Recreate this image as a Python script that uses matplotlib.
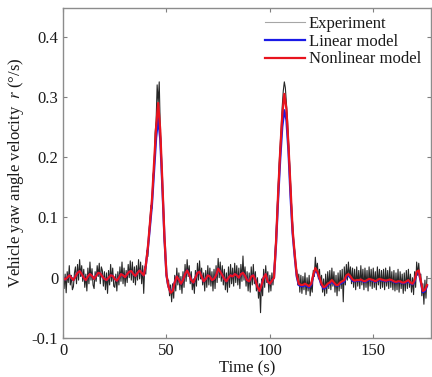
import matplotlib
matplotlib.use("Agg")
import matplotlib.pyplot as plt
import numpy as np
from matplotlib.ticker import FormatStrFormatter

# experiment sampled every 0.5 s (0 .. 176 s)
exp_dt = 0.5
experiment = [
    0.012, -0.018, 0.006, -0.025, 0.010, -0.008, 0.020, -0.012, 0.004, -0.020,
    -0.015, 0.008, 0.018, -0.010, 0.022, -0.004, 0.030, 0.002, 0.020, -0.006,
    0.014, -0.016, 0.006, -0.022, 0.016, -0.010, 0.026, -0.004, 0.015, -0.012,
    -0.018, 0.010, -0.006, 0.020, 0.002, 0.024, -0.010, 0.018, 0.012, -0.014,
    0.010, -0.020, 0.008, -0.026, 0.012, -0.012, 0.022, -0.006, 0.016, -0.014,
    -0.016, 0.006, -0.022, 0.010, -0.012, 0.018, -0.006, 0.026, -0.010, 0.016,
    -0.014, 0.012, -0.008, 0.022, 0.000, 0.028, -0.004, 0.026, -0.008, 0.018,
    -0.012, 0.020, -0.004, 0.030, -0.002, 0.026, -0.010, 0.020, -0.026, 0.018,
    0.006, 0.045, 0.035, 0.075, 0.095, 0.120, 0.115, 0.170, 0.180, 0.240,
    0.260, 0.320, 0.290, 0.325, 0.250, 0.210, 0.150, 0.120, 0.060, 0.030,
    0.010, -0.012, -0.004, -0.030, -0.012, -0.040, -0.010, -0.034, 0.004, -0.022,
    0.016, -0.012, 0.008, -0.020, 0.002, -0.026, 0.010, -0.016, 0.022, -0.006,
    0.030, 0.002, 0.020, -0.010, 0.010, -0.020, -0.002, -0.026, 0.012, -0.014,
    0.024, -0.004, 0.028, -0.002, 0.016, -0.012, 0.008, -0.022, 0.012, -0.016,
    0.020, -0.012, 0.016, -0.014, 0.010, -0.022, 0.014, -0.018, 0.020, -0.008,
    0.032, 0.000, 0.026, -0.006, 0.020, -0.012, 0.014, -0.020, 0.008, -0.024,
    0.018, -0.016, 0.022, -0.010, 0.016, -0.014, 0.024, -0.008, 0.020, -0.012,
    0.016, -0.018, 0.022, -0.006, 0.036, -0.004, 0.018, -0.014, 0.010, -0.022,
    0.008, -0.024, 0.018, -0.012, 0.022, -0.010, 0.010, -0.022, 0.000, -0.034,
    -0.010, -0.058, -0.002, -0.030, 0.014, -0.016, 0.020, -0.008, 0.010, -0.024,
    0.004, -0.022, 0.008, -0.012, 0.010, 0.040, 0.070, 0.110, 0.150, 0.190,
    0.220, 0.250, 0.285, 0.310, 0.325, 0.315, 0.290, 0.265, 0.230, 0.195,
    0.160, 0.120, 0.090, 0.060, 0.045, 0.020, 0.012, -0.012, 0.006, -0.024,
    0.004, -0.026, 0.002, -0.020, 0.008, -0.028, 0.000, -0.022, 0.004, -0.030,
    -0.008, -0.024, 0.012, 0.002, 0.034, 0.010, 0.024, -0.002, 0.014, -0.012,
    0.004, -0.024, -0.002, -0.030, 0.006, -0.026, 0.010, -0.018, 0.012, -0.020,
    0.016, -0.014, 0.010, -0.024, 0.004, -0.030, 0.008, -0.022, 0.012, -0.018,
    0.014, -0.040, 0.018, -0.012, 0.022, -0.004, 0.026, 0.000, 0.018, -0.010,
    0.016, -0.016, 0.014, -0.020, 0.018, -0.014, 0.012, -0.018, 0.020, -0.012,
    0.014, -0.020, 0.016, -0.016, 0.012, -0.022, 0.018, -0.014, 0.014, -0.018,
    0.016, -0.016, 0.010, -0.020, 0.018, -0.012, 0.014, -0.018, 0.012, -0.016,
    0.014, -0.020, 0.016, -0.014, 0.012, -0.018, 0.018, -0.016, 0.010, -0.020,
    0.012, -0.022, 0.008, -0.020, 0.014, -0.024, 0.010, -0.018, 0.006, -0.026,
    0.008, -0.022, 0.012, -0.018, 0.014, -0.016, 0.006, -0.024, 0.000, -0.028,
    0.010, -0.016, 0.026, 0.004, 0.024, 0.000, 0.006, -0.030, -0.010, -0.044,
    -0.004, -0.034, 0.002,
]

# model outputs sampled every 1 s (0 .. 176 s)
nonlinear = [
    0.000, -0.003, 0.000, 0.004, 0.000, -0.004, 0.002, 0.008, 0.011, 0.006,
    0.000, -0.004, 0.002, 0.006, 0.003, -0.002, 0.003, 0.008, 0.007, 0.002,
    -0.002, -0.004, 0.000, 0.004, 0.003, -0.002, -0.005, 0.000, 0.006, 0.004,
    0.001, 0.006, 0.010, 0.011, 0.006, 0.003, 0.008, 0.012, 0.008, 0.004,
    0.020, 0.050, 0.090, 0.130, 0.190, 0.250, 0.290, 0.245, 0.160, 0.070,
    0.005, -0.015, -0.025, -0.022, -0.008, 0.002, -0.003, -0.010, -0.004, 0.006,
    0.012, 0.005, -0.004, -0.008, 0.000, 0.008, 0.010, 0.002, -0.006, -0.002,
    0.004, 0.002, -0.004, -0.002, 0.004, 0.015, 0.010, 0.004, -0.002, -0.006,
    0.000, 0.004, 0.002, 0.006, 0.004, 0.000, 0.006, 0.008, 0.003, -0.004,
    -0.006, 0.002, 0.004, -0.004, -0.015, -0.022, -0.012, 0.000, 0.006, -0.006,
    -0.010, -0.005, 0.000, 0.060, 0.140, 0.210, 0.270, 0.305, 0.280, 0.220,
    0.150, 0.080, 0.040, 0.005, -0.010, -0.012, -0.012, -0.010, -0.012, -0.014,
    -0.010, 0.005, 0.016, 0.010, 0.000, -0.010, -0.016, -0.014, -0.010, -0.008,
    -0.004, -0.008, -0.012, -0.012, -0.008, -0.006, -0.004, 0.004, 0.006, 0.002,
    -0.003, -0.005, -0.004, -0.004, -0.003, -0.005, -0.006, -0.004, -0.002, -0.003,
    -0.004, -0.006, -0.004, -0.002, -0.003, -0.004, -0.005, -0.004, -0.003, -0.004,
    -0.006, -0.007, -0.006, -0.006, -0.008, -0.008, -0.006, -0.004, -0.008, -0.010,
    -0.004, 0.010, 0.012, -0.005, -0.022, -0.020, -0.012,
]

linear = [
    0.000, -0.003, 0.000, 0.004, 0.000, -0.004, 0.002, 0.008, 0.011, 0.006,
    0.000, -0.004, 0.002, 0.006, 0.003, -0.002, 0.003, 0.008, 0.007, 0.002,
    -0.002, -0.004, 0.000, 0.004, 0.003, -0.002, -0.005, 0.000, 0.006, 0.004,
    0.001, 0.006, 0.010, 0.011, 0.006, 0.003, 0.008, 0.012, 0.008, 0.004,
    0.020, 0.048, 0.084, 0.122, 0.178, 0.232, 0.265, 0.230, 0.152, 0.068,
    0.004, -0.015, -0.024, -0.021, -0.008, 0.002, -0.003, -0.010, -0.004, 0.006,
    0.012, 0.005, -0.004, -0.008, 0.000, 0.008, 0.010, 0.002, -0.006, -0.002,
    0.004, 0.002, -0.004, -0.002, 0.004, 0.015, 0.010, 0.004, -0.002, -0.006,
    0.000, 0.004, 0.002, 0.006, 0.004, 0.000, 0.006, 0.008, 0.003, -0.004,
    -0.006, 0.002, 0.004, -0.004, -0.015, -0.022, -0.012, 0.000, 0.006, -0.006,
    -0.010, -0.005, 0.000, 0.056, 0.130, 0.196, 0.250, 0.278, 0.262, 0.210,
    0.135, 0.074, 0.036, 0.002, -0.012, -0.014, -0.014, -0.012, -0.014, -0.016,
    -0.012, 0.003, 0.013, 0.008, -0.002, -0.012, -0.018, -0.016, -0.012, -0.010,
    -0.006, -0.010, -0.013, -0.013, -0.010, -0.008, -0.006, 0.002, 0.004, 0.000,
    -0.005, -0.006, -0.005, -0.005, -0.004, -0.006, -0.007, -0.005, -0.004, -0.004,
    -0.005, -0.007, -0.005, -0.004, -0.004, -0.005, -0.006, -0.005, -0.004, -0.005,
    -0.007, -0.008, -0.007, -0.007, -0.009, -0.009, -0.007, -0.006, -0.009, -0.011,
    -0.006, 0.008, 0.010, -0.007, -0.024, -0.022, -0.014,
]

t_exp = np.arange(len(experiment)) * exp_dt
t_mod = np.arange(len(nonlinear)) * 1.0

plt.rcParams["font.family"] = ["Liberation Serif", "DejaVu Serif"]
plt.rcParams["mathtext.fontset"] = "stix"
plt.rcParams["axes.unicode_minus"] = False

fig = plt.figure(figsize=(4.32, 3.77), dpi=100)
ax = fig.add_axes([0.146, 0.1035, 0.852, 0.876])

ax.plot(t_exp, experiment, color="0.15", lw=0.8, label="Experiment")
ax.plot(t_mod, linear, color="#1a1ae6", lw=1.6, label="Linear model")
ax.plot(t_mod, nonlinear, color="#e8141e", lw=1.6, label="Nonlinear model")

ax.set_xlim(0, 178)
ax.set_ylim(-0.1, 0.448)
ax.set_xticks([0, 50, 100, 150])
ax.set_yticks([-0.1, 0, 0.1, 0.2, 0.3, 0.4])
ax.yaxis.set_major_formatter(FormatStrFormatter("%g"))
ax.tick_params(direction="in", top=True, right=True, length=3, color="0.5",
               labelsize=12, labelcolor="0.1")
for s in ax.spines.values():
    s.set_color("0.55")
    s.set_linewidth(1.0)

ax.set_xlabel("Time (s)", fontsize=12, color="0.1", labelpad=1)
ax.set_ylabel("Vehicle yaw angle velocity  $r$ (°/s)", fontsize=12, color="0.1", labelpad=4)

leg = ax.legend(loc="upper right", frameon=False, fontsize=12, handlelength=2.4,
                handletextpad=0.2, labelspacing=0.1, borderaxespad=0.1,
                bbox_to_anchor=(0.995, 1.0))
for txt in leg.get_texts():
    txt.set_color("0.1")
# the experiment entry is drawn light grey in the key
leg.legend_handles[0].set_color("0.65")

fig.savefig("out.png", dpi=100)
